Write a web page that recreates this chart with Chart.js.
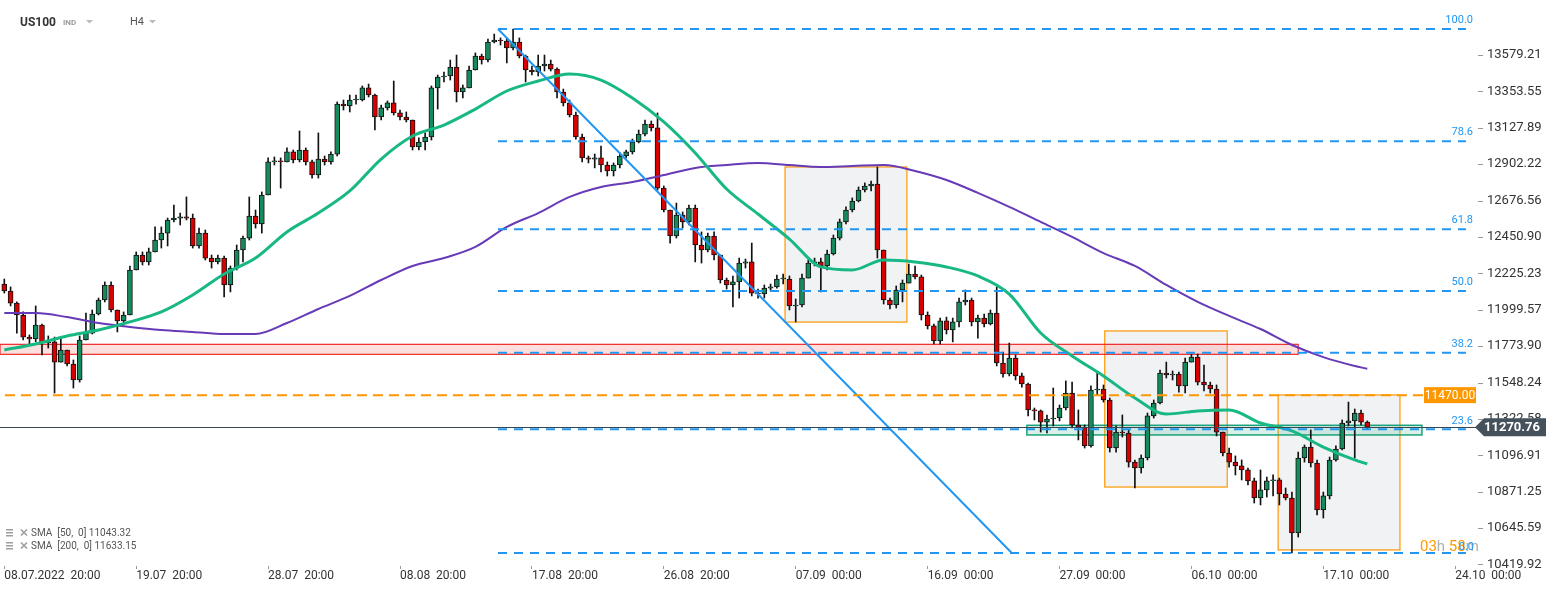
<!DOCTYPE html>
<html>
<head>
<meta charset="utf-8">
<script src="https://cdn.jsdelivr.net/npm/chart.js@4.4.1/dist/chart.umd.min.js"></script>
<style>
html, body { margin: 0; padding: 0; background: #fff; overflow: hidden; }
canvas { display: block; }
</style>
</head>
<body>
<canvas id="chart" width="1546" height="590"></canvas>
<script>
// US100, H4 candles (every candle here spans two H4 bars), prices.
var firstOpen = 12159;
var closes = [
  12116, 12041, 11967, 11830, 11818, 11905, 11793, 11800, 11675, 11750,
  11663, 11564, 11812, 11855, 11973, 12060, 12153, 11998, 11930, 11967,
  12246, 12339, 12296, 12358, 12432, 12475, 12556, 12568, 12575, 12568,
  12395, 12475, 12320, 12296, 12320, 12153, 12258, 12370, 12444, 12581,
  12531, 12711, 12916, 12922, 12916, 12978, 12928, 12990, 12916, 12835,
  12934, 12916, 12965, 13275, 13263, 13300, 13300, 13375, 13331, 13195,
  13251, 13282, 13220, 13195, 13176, 13009, 13040, 13071, 13375, 13443,
  13449, 13505, 13350, 13375, 13486, 13573, 13548, 13660, 13672, 13666,
  13623, 13660, 13573, 13486, 13474, 13511, 13523, 13492, 13350, 13282,
  13207, 13071, 12941, 12934, 12941, 12897, 12860, 12897, 12953, 12978,
  13040, 13089, 13151, 13127, 12754, 12618, 12457, 12587, 12544, 12630,
  12401, 12370, 12457, 12339, 12184, 12153, 12172, 12289, 12296, 12103,
  12097, 12134, 12141, 12190, 12190, 12023, 12029, 12196, 12289, 12296,
  12271, 12345, 12444, 12544, 12618, 12674, 12742, 12767, 12779, 12370,
  12060, 12029, 12122, 12165, 12221, 12203, 11967, 11899, 11806, 11930,
  11874, 11924, 12048, 12060, 11924, 11948, 11911, 11979, 11669, 11601,
  11700, 11589, 11539, 11378, 11372, 11303, 11322, 11328, 11390, 11483,
  11285, 11272, 11155, 11502, 11508, 11440, 11142, 11241, 11235, 11055,
  11018, 11080, 11341, 11421, 11607, 11595, 11601, 11527, 11675, 11706,
  11551, 11533, 11508, 11241, 11111, 11055, 11031, 11006, 10938, 10832,
  10882, 10938, 10944, 10857, 10832, 10615, 11080, 11148, 11049, 10758,
  10845, 11068, 11136, 11297, 11310, 11359, 11303, 11270.76
];
var highs = [
  12190, 12141, 12048, 11986, 11843, 12023, 11911, 11837, 11830, 11830,
  11750, 11688, 11837, 11979, 11998, 12072, 12172, 12172, 11998, 11986,
  12271, 12358, 12358, 12382, 12513, 12513, 12568, 12649, 12599, 12699,
  12593, 12506, 12494, 12339, 12339, 12333, 12271, 12401, 12457, 12699,
  12618, 12730, 12941, 12947, 12941, 13003, 12990, 13108, 13003, 12928,
  13096, 12953, 12978, 13288, 13300, 13331, 13331, 13387, 13399, 13337,
  13269, 13294, 13418, 13238, 13226, 13176, 13065, 13096, 13387, 13455,
  13474, 13548, 13579, 13393, 13511, 13592, 13585, 13678, 13709, 13685,
  13685, 13740, 13685, 13579, 13511, 13579, 13579, 13548, 13499, 13368,
  13300, 13226, 13089, 12953, 12965, 13015, 12916, 12910, 12972, 12990,
  13058, 13114, 13176, 13170, 13220, 12767, 12618, 12661, 12606, 12649,
  12649, 12482, 12475, 12482, 12333, 12196, 12209, 12320, 12314, 12413,
  12128, 12153, 12159, 12215, 12221, 12209, 12066, 12221, 12308, 12320,
  12320, 12370, 12463, 12562, 12637, 12693, 12761, 12786, 12798, 12885,
  12339, 12072, 12147, 12184, 12283, 12271, 12215, 11986, 11911, 11948,
  11954, 11948, 12072, 12122, 12072, 11967, 11973, 11998, 12141, 11737,
  11793, 11719, 11607, 11545, 11390, 11378, 11347, 11514, 11409, 11558,
  11551, 11378, 11285, 11527, 11607, 11533, 11452, 11279, 11347, 11254,
  11068, 11099, 11359, 11440, 11626, 11675, 11620, 11613, 11700, 11725,
  11725, 11657, 11551, 11533, 11241, 11142, 11093, 11068, 11018, 10956,
  11006, 10962, 10975, 10956, 10894, 10869, 11117, 11161, 11254, 11068,
  10869, 11086, 11155, 11316, 11427, 11384, 11378, 11310
];
var lows = [
  12103, 12023, 11855, 11812, 11781, 11800, 11719, 11762, 11483, 11675,
  11651, 11514, 11551, 11812, 11849, 11967, 12048, 11986, 11862, 11905,
  11973, 12246, 12277, 12277, 12358, 12382, 12395, 12544, 12525, 12556,
  12382, 12382, 12308, 12258, 12283, 12079, 12110, 12246, 12296, 12432,
  12506, 12475, 12711, 12897, 12754, 12916, 12910, 12916, 12897, 12816,
  12816, 12897, 12903, 12953, 13238, 13226, 13275, 13294, 13319, 13114,
  13176, 13238, 13207, 13176, 13164, 12990, 12990, 12990, 13052, 13244,
  13412, 13424, 13288, 13313, 13393, 13486, 13523, 13536, 13654, 13641,
  13530, 13610, 13561, 13412, 13455, 13449, 13480, 13480, 13313, 13263,
  13195, 13058, 12916, 12910, 12879, 12854, 12829, 12829, 12879, 12941,
  12965, 13034, 13077, 13108, 12742, 12606, 12413, 12444, 12506, 12525,
  12296, 12289, 12358, 12308, 12165, 12128, 12017, 12072, 12258, 12085,
  12072, 12072, 12116, 12134, 12159, 11998, 11924, 12017, 12203, 12271,
  12110, 12246, 12339, 12432, 12531, 12606, 12668, 12730, 12736, 12320,
  12035, 12004, 12010, 12048, 12196, 12190, 11936, 11880, 11787, 11787,
  11849, 11800, 11893, 12029, 11899, 11824, 11893, 11905, 11651, 11582,
  11589, 11564, 11520, 11341, 11316, 11241, 11235, 11279, 11310, 11378,
  11266, 11192, 11142, 11148, 11471, 11427, 11117, 11117, 11210, 11024,
  10894, 10987, 11068, 11328, 11415, 11576, 11564, 11489, 11483, 11675,
  11533, 11496, 11483, 11217, 11093, 11024, 10975, 10944, 10913, 10801,
  10789, 10838, 10845, 10789, 10820, 10491, 10590, 11055, 11024, 10727,
  10708, 10826, 11061, 11130, 11279, 11080, 11285, 11260
];

// moving averages, read at every fifth candle
var smaAt = [0, 5, 10, 15, 20, 25, 30, 35, 40, 45, 50, 55, 60, 65, 70, 75, 80, 85, 90, 95,
  100, 105, 110, 115, 120, 125, 130, 135, 140, 145, 150, 155, 160, 165, 170, 175, 180, 185,
  190, 195, 200, 205, 210, 215, 217];
var sma50 = [11750, 11787, 11837, 11874, 11924, 11986, 12091, 12221, 12320, 12482,
  12599, 12736, 12934, 13077, 13145, 13244, 13356, 13418, 13461, 13424,
  13313, 13164, 12972, 12748, 12593, 12438, 12265, 12246, 12308, 12296,
  12265, 12209, 12097, 11855, 11713, 11589, 11452, 11353, 11372, 11378,
  11297, 11248, 11148, 11068, 11043.32];
var sma200 = [11979, 11979, 11954, 11917, 11893, 11874, 11862, 11849, 11849, 11917,
  12004, 12085, 12184, 12271, 12320, 12389, 12513, 12599, 12699, 12761,
  12792, 12835, 12879, 12897, 12910, 12897, 12885, 12891, 12897, 12860,
  12804, 12724, 12637, 12544, 12451, 12351, 12271, 12153, 12048, 11961,
  11880, 11781, 11706, 11651, 11633.15];

var yTicks = [13579.21, 13353.55, 13127.89, 12902.22, 12676.56, 12450.90, 12225.23,
  11999.57, 11773.90, 11548.24, 11322.58, 11096.91, 10871.25, 10645.59, 10419.92];
var xTickAt = [0, 21, 42, 63, 84, 105, 126, 147, 168, 189, 210, 231];
var xTickLabels = ['08.07.2022  20:00', '19.07  20:00', '28.07  20:00', '08.08  20:00',
  '17.08  20:00', '26.08  20:00', '07.09  00:00', '16.09  00:00', '27.09  00:00',
  '06.10  00:00', '17.10  00:00', '24.10  00:00'];

var fibHigh = 13740.5;
var fibLow = 10491.1;
var fibLevels = [100, 78.6, 61.8, 50, 38.2, 23.6, 0];
var orderLevel = 11470.00;
var lastPrice = 11270.76;

var green = 'rgb(23, 184, 131)';
var purple = 'rgb(103, 58, 183)';
var blue = 'rgb(33, 150, 243)';
var orange = 'rgb(255, 152, 0)';
var upColor = 'rgb(21, 138, 92)';
var downColor = 'rgb(217, 0, 0)';

////////////////////////////////////////////////////////////////////////////////
// Candles as floating bars: wick = [low, high], body = [open, close].

var bodies = [];
var wicks = [];
var bodyColors = [];
var prev = firstOpen;
for (var i = 0; i < closes.length; i++) {
    bodies.push({ x: i, y: [prev, closes[i]] });
    wicks.push({ x: i, y: [Math.min(lows[i], prev, closes[i]), Math.max(highs[i], prev, closes[i])] });
    bodyColors.push(closes[i] >= prev ? upColor : downColor);
    prev = closes[i];
}

////////////////////////////////////////////////////////////////////////////////
// Drawings on top of the chart (boxes, zones, fibo, labels).

function dashed(ctx, x0, x1, y, color, dash) {
    ctx.save();
    ctx.strokeStyle = color;
    ctx.lineWidth = 2;
    ctx.setLineDash(dash);
    ctx.beginPath();
    ctx.moveTo(x0, y);
    ctx.lineTo(x1, y);
    ctx.stroke();
    ctx.restore();
}

var drawings = {
    id: 'drawings',
    beforeDatasetsDraw: function (chart) {
        var ctx = chart.ctx, x = chart.scales.x, y = chart.scales.y;
        ctx.save();
        // projection boxes
        [[124.3, 143.7, 11923, 12885], [175.2, 194.7, 10900, 11868], [202.8, 222.2, 10510, 11471]].forEach(function (b) {
            var x0 = x.getPixelForValue(b[0]), x1 = x.getPixelForValue(b[1]);
            var y0 = y.getPixelForValue(b[3]), y1 = y.getPixelForValue(b[2]);
            ctx.fillStyle = 'rgba(214, 218, 224, 0.35)';
            ctx.fillRect(x0, y0, x1 - x0, y1 - y0);
            ctx.strokeStyle = orange;
            ctx.lineWidth = 1.2;
            ctx.strokeRect(x0, y0, x1 - x0, y1 - y0);
        });
        // red zone
        var rx0 = x.getPixelForValue(x.min), rx1 = x.getPixelForValue(206.0);
        var ry0 = y.getPixelForValue(11785), ry1 = y.getPixelForValue(11723);
        ctx.fillStyle = 'rgba(244, 67, 54, 0.17)';
        ctx.fillRect(rx0, ry0, rx1 - rx0, ry1 - ry0);
        ctx.strokeStyle = 'rgb(240, 40, 40)';
        ctx.lineWidth = 1.2;
        ctx.strokeRect(rx0, ry0, rx1 - rx0, ry1 - ry0);
        // green zone
        var gx0 = x.getPixelForValue(162.8), gx1 = x.getPixelForValue(225.7);
        var gy0 = y.getPixelForValue(11283), gy1 = y.getPixelForValue(11223);
        ctx.fillStyle = 'rgba(40, 170, 130, 0.18)';
        ctx.fillRect(gx0, gy0, gx1 - gx0, gy1 - gy0);
        ctx.strokeStyle = 'rgb(26, 163, 122)';
        ctx.lineWidth = 1.5;
        ctx.strokeRect(gx0, gy0, gx1 - gx0, gy1 - gy0);
        ctx.restore();
    },
    afterDatasetsDraw: function (chart) {
        var ctx = chart.ctx, x = chart.scales.x, y = chart.scales.y;
        var fx0 = x.getPixelForValue(78.6), fx1 = x.getPixelForValue(232.7);
        fibLevels.forEach(function (lv) {
            var price = fibLow + (fibHigh - fibLow) * lv / 100;
            dashed(ctx, fx0, fx1, y.getPixelForValue(price), blue, [9, 7]);
        });
        // trend line
        ctx.save();
        ctx.strokeStyle = blue;
        ctx.lineWidth = 2;
        ctx.beginPath();
        ctx.moveTo(fx0, y.getPixelForValue(fibHigh));
        ctx.lineTo(x.getPixelForValue(160.4), y.getPixelForValue(fibLow));
        ctx.stroke();
        ctx.restore();
        // pending order level
        dashed(ctx, x.getPixelForValue(0.1), x.getPixelForValue(226.2), y.getPixelForValue(orderLevel), orange, [10, 6]);
        // last price line
        ctx.save();
        ctx.strokeStyle = 'rgb(55, 71, 79)';
        ctx.lineWidth = 1;
        var py = Math.round(y.getPixelForValue(lastPrice)) + 0.5;
        ctx.beginPath();
        ctx.moveTo(0, py);
        ctx.lineTo(1476, py);
        ctx.stroke();
        ctx.restore();
    },
    afterDraw: function (chart) {
        var ctx = chart.ctx, x = chart.scales.x, y = chart.scales.y;
        ctx.save();
        // y tick marks
        ctx.strokeStyle = '#999';
        ctx.lineWidth = 1;
        yTicks.forEach(function (v) {
            var ty = Math.round(y.getPixelForValue(v)) + 0.5;
            ctx.beginPath();
            ctx.moveTo(1478, ty);
            ctx.lineTo(1483, ty);
            ctx.stroke();
        });
        // fibo labels
        ctx.font = '11px Roboto';
        ctx.fillStyle = blue;
        ctx.textAlign = 'right';
        ctx.textBaseline = 'bottom';
        fibLevels.forEach(function (lv) {
            if (lv === 0) return;
            var price = fibLow + (fibHigh - fibLow) * lv / 100;
            ctx.fillText(lv.toFixed(1), 1473, y.getPixelForValue(price) - 3);
        });
        // order level tag
        var oy = y.getPixelForValue(orderLevel);
        ctx.fillStyle = orange;
        ctx.fillRect(1424, oy - 8, 52, 16);
        ctx.fillStyle = '#fff';
        ctx.font = '12px Roboto';
        ctx.textAlign = 'center';
        ctx.textBaseline = 'middle';
        ctx.fillText(orderLevel.toFixed(2), 1450, oy + 0.5);
        // last price tag
        var ly = y.getPixelForValue(lastPrice);
        ctx.fillStyle = 'rgb(69, 82, 92)';
        ctx.beginPath();
        ctx.moveTo(1475, ly);
        ctx.lineTo(1484, ly - 9);
        ctx.lineTo(1546, ly - 9);
        ctx.lineTo(1546, ly + 9);
        ctx.lineTo(1484, ly + 9);
        ctx.closePath();
        ctx.fill();
        ctx.fillStyle = '#fff';
        ctx.font = 'bold 13px Roboto';
        ctx.fillText(lastPrice.toFixed(2), 1512, ly + 0.5);
        // countdown + 0.0 label
        ctx.textAlign = 'left';
        ctx.textBaseline = 'alphabetic';
        ctx.font = '15px Roboto';
        var cx = 1420;
        [['03', orange], ['h ', '#b0b0b0'], ['58', orange], ['m', '#b0b0b0']].forEach(function (p) {
            ctx.fillStyle = p[1];
            ctx.fillText(p[0], cx, 551);
            cx += ctx.measureText(p[0]).width;
        });
        ctx.font = '11px Roboto';
        ctx.fillStyle = blue;
        ctx.textAlign = 'right';
        ctx.fillText('0.0', 1474, 550);
        // header
        ctx.textAlign = 'left';
        ctx.textBaseline = 'middle';
        ctx.fillStyle = '#333';
        ctx.font = 'bold 12px Roboto';
        ctx.fillText('US100', 20, 22.5);
        ctx.fillStyle = '#9a9a9a';
        ctx.font = 'bold 8px Roboto';
        ctx.fillText('IND', 63, 22.5);
        ctx.fillStyle = '#555';
        ctx.font = '11px Roboto';
        ctx.fillText('H4', 130, 22.5);
        ctx.fillStyle = '#bbb';
        [86, 149].forEach(function (tx) {
            ctx.beginPath();
            ctx.moveTo(tx, 20);
            ctx.lineTo(tx + 7, 20);
            ctx.lineTo(tx + 3.5, 23.5);
            ctx.closePath();
            ctx.fill();
        });
        // indicator legend
        ctx.font = '10px Roboto';
        [['SMA  [50,  0] 11043.32', 533], ['SMA  [200,  0] 11633.15', 546]].forEach(function (l) {
            var ly2 = l[1];
            ctx.fillStyle = '#9e9e9e';
            ctx.fillRect(6, ly2 - 4, 7, 1.5);
            ctx.fillRect(6, ly2 - 1, 7, 1.5);
            ctx.fillRect(6, ly2 + 2, 7, 1.5);
            ctx.strokeStyle = '#9e9e9e';
            ctx.lineWidth = 1.6;
            ctx.beginPath();
            ctx.moveTo(21, ly2 - 3.5); ctx.lineTo(27, ly2 + 2.5);
            ctx.moveTo(27, ly2 - 3.5); ctx.lineTo(21, ly2 + 2.5);
            ctx.stroke();
            ctx.fillStyle = '#555';
            ctx.fillText(l[0], 31, ly2);
        });
        ctx.restore();
    }
};

////////////////////////////////////////////////////////////////////////////////
// Chart.

Chart.defaults.font.family = 'Roboto, "Noto Sans", sans-serif';

var ctx = document.getElementById('chart').getContext('2d');
var myChart = new Chart(ctx, {
    type: 'bar',
    plugins: [drawings],
    data: {
        datasets: [{
            type: 'line',
            label: 'SMA 50',
            data: smaAt.map(function (v, k) { return { x: v, y: sma50[k] }; }),
            borderColor: green,
            borderWidth: 3,
            pointRadius: 0,
            cubicInterpolationMode: 'monotone',
            order: 1
        },
        {
            type: 'line',
            label: 'SMA 200',
            data: smaAt.map(function (v, k) { return { x: v, y: sma200[k] }; }),
            borderColor: purple,
            borderWidth: 2,
            pointRadius: 0,
            cubicInterpolationMode: 'monotone',
            order: 1
        },
        {
            label: 'wicks',
            data: wicks,
            backgroundColor: '#111',
            barThickness: 1,
            grouped: false,
            order: 3
        },
        {
            label: 'bodies',
            data: bodies,
            backgroundColor: bodyColors,
            borderColor: '#111',
            borderWidth: 1,
            borderSkipped: false,
            barThickness: 5,
            minBarLength: 1,
            grouped: false,
            order: 2
        }]
    },
    options: {
        responsive: false,
        animation: false,
        devicePixelRatio: 1,
        layout: { padding: 0 },
        plugins: {
            legend: { display: false },
            tooltip: { enabled: false }
        },
        scales: {
            x: {
                type: 'linear',
                min: -0.685,
                max: 233.35,
                offset: false,
                afterBuildTicks: function (s) { s.ticks = xTickAt.map(function (v) { return { value: v }; }); },
                afterFit: function (s) { s.height = 24; s.paddingLeft = 0; s.paddingRight = 0; },
                grid: { drawOnChartArea: false, drawTicks: true, tickLength: 3, color: '#999', offset: false },
                border: { display: false },
                ticks: {
                    autoSkip: false,
                    maxRotation: 0,
                    align: 'start',
                    padding: 0,
                    color: '#333',
                    font: { size: 12 },
                    callback: function (v, idx) { return xTickLabels[idx]; }
                }
            },
            y: {
                position: 'right',
                min: 10410.4,
                max: 13920.3,
                afterBuildTicks: function (s) { s.ticks = yTicks.map(function (v) { return { value: v }; }); },
                afterFit: function (s) { s.width = 76; s.paddingTop = 0; s.paddingBottom = 0; },
                grid: { display: false, drawTicks: false },
                border: { display: false },
                ticks: {
                    autoSkip: false,
                    padding: 17,
                    color: '#333',
                    font: { size: 13 },
                    callback: function (v) { return v.toFixed(2); }
                }
            }
        }
    }
});
</script>
</body>
</html>
